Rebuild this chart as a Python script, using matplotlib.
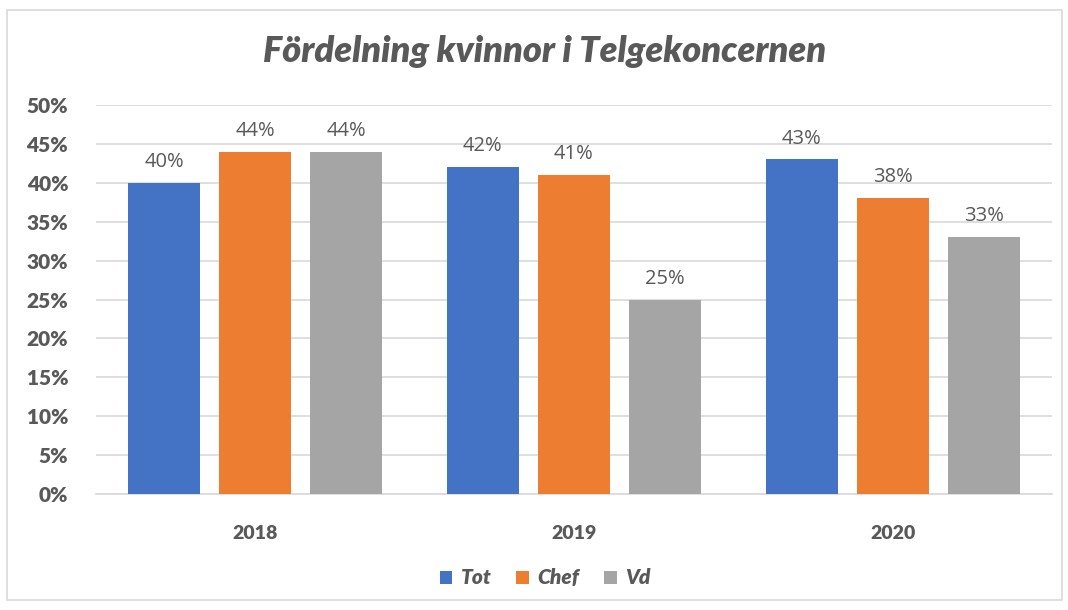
import matplotlib
matplotlib.use('Agg')
import matplotlib.pyplot as plt
import numpy as np
from matplotlib.patches import Rectangle

years = ['2018', '2019', '2020']
series_names = ['Tot', 'Chef', 'Vd']
tot = [40, 42, 43]
chef = [44, 41, 38]
vd = [44, 25, 33]
y_ticks = [0, 5, 10, 15, 20, 25, 30, 35, 40, 45, 50]

colors = ['#4472C4', '#ED7D31', '#A5A5A5']
text_color = '#595959'

fig = plt.figure(figsize=(10.68, 6.10), dpi=100)
fig.patches.append(Rectangle((7 / 1068, 1 - 600 / 610), 1055 / 1068, 590 / 610,
                             transform=fig.transFigure, fill=False,
                             edgecolor='#D9D9D9', linewidth=1.2))
ax = fig.add_axes([96 / 1068, 1 - 494 / 610, 956 / 1068, 389 / 610])

x = np.arange(len(years))
offset = 0.286
width = 0.226
for i, (name, vals) in enumerate(zip(series_names, [tot, chef, vd])):
    bars = ax.bar(x + (i - 1) * offset, vals, width, color=colors[i], label=name, zorder=3)
    for b, v in zip(bars, vals):
        ax.text(b.get_x() + b.get_width() / 2, v + 1.4, f'{v}%', ha='center', va='bottom',
                fontsize=14.5, color=text_color, family='Open Sans')

ax.set_xlim(-0.5, 2.5)
ax.set_ylim(0, 50)
ax.set_yticks(y_ticks)
ax.set_yticklabels([f'{t}%' for t in y_ticks], fontsize=15, fontweight='heavy',
                   color=text_color, family='Lato')
ax.set_xticks(x)
ax.set_xticklabels(years, fontsize=14, fontweight='heavy', color=text_color, family='Lato')
ax.tick_params(axis='both', length=0)
ax.tick_params(axis='x', pad=22)
ax.tick_params(axis='y', pad=20)
ax.grid(axis='y', color='#D9D9D9', linewidth=1.2, zorder=0)
for s in ['top', 'right', 'left']:
    ax.spines[s].set_visible(False)
ax.spines['bottom'].set_color('#D9D9D9')
ax.spines['bottom'].set_linewidth(1.2)

fig.text(545 / 1068, 1 - 52 / 610, 'Fördelning kvinnor i Telgekoncernen', ha='center', va='center',
         fontsize=26, fontweight='heavy', style='italic', color=text_color, family='Lato')

leg = fig.legend(loc='center', bbox_to_anchor=(545 / 1068, 1 - 578 / 610), ncol=3, frameon=False,
                 handlelength=0.6, handleheight=0.6, handletextpad=0.4, columnspacing=1.2,
                 prop={'family': 'Lato', 'weight': 'heavy', 'style': 'italic', 'size': 15})
for t in leg.get_texts():
    t.set_color(text_color)

fig.savefig('out.png', dpi=100, facecolor='white')
